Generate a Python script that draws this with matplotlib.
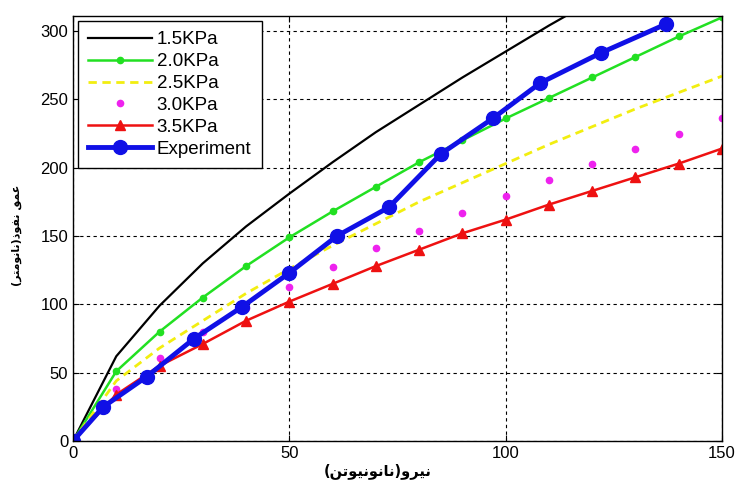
import matplotlib
matplotlib.use('Agg')
import matplotlib.pyplot as plt

# ---- data ----
x_model = [0, 10, 20, 30, 40, 50, 60, 70, 80, 90, 100, 110, 120, 130, 140, 150]
y_15 = [0, 62, 99, 130, 157, 181, 204, 226, 246, 266, 285, 304, 322]
y_20 = [0, 51, 80, 105, 128, 149, 168, 186, 204, 220, 236, 251, 266, 281, 296, 310]
y_25 = [0, 44, 68, 88, 108, 126, 143, 159, 175, 189, 203, 217, 230, 243, 255, 267]
y_30 = [0, 38, 61, 80, 97, 113, 127, 141, 154, 167, 179, 191, 203, 214, 225, 236]
y_35 = [0, 34, 55, 71, 88, 102, 115, 128, 140, 152, 162, 173, 183, 193, 203, 214]

x_exp = [0, 7, 17, 28, 39, 50, 61, 73, 85, 97, 108, 122, 137]
y_exp = [0, 25, 47, 75, 98, 123, 150, 171, 210, 236, 262, 284, 305]

labels = ['1.5KPa', '2.0KPa', '2.5KPa', '3.0KPa', '3.5KPa', 'Experiment']
xlabel = 'نیرو(نانونیوتن)'
ylabel = 'عمق نفوذ(نانومتر)'

# simple arabic/persian shaping (matplotlib has no shaping / bidi)
FORMS = {
    'ع': '\ufec9\ufeca\ufecb\ufecc', 'م': '\ufee1\ufee2\ufee3\ufee4',
    'ق': '\ufed5\ufed6\ufed7\ufed8', 'ن': '\ufee5\ufee6\ufee7\ufee8',
    'ف': '\ufed1\ufed2\ufed3\ufed4', 'ت': '\ufe95\ufe96\ufe97\ufe98',
    'ی': '\ufbfc\ufbfd\ufbfe\ufbff',
    'و': '\ufeed\ufeee', 'ذ': '\ufeab\ufeac', 'ا': '\ufe8d\ufe8e', 'ر': '\ufead\ufeae',
}


def shape(text):
    out = []
    for i, ch in enumerate(text):
        if ch not in FORMS:
            out.append(ch)
            continue
        f = FORMS[ch]
        prev = text[i - 1] if i > 0 else ''
        nxt = text[i + 1] if i + 1 < len(text) else ''
        jp = prev in FORMS and len(FORMS[prev]) == 4
        jn = nxt in FORMS and len(f) == 4
        if jp and jn:
            out.append(f[3])
        elif jp:
            out.append(f[1])
        elif jn:
            out.append(f[2])
        else:
            out.append(f[0])
    vis = ''.join(reversed(out))
    return vis.translate(str.maketrans('()', ')('))


plt.rcParams['font.family'] = ['Liberation Sans', 'DejaVu Sans']

fig = plt.figure(figsize=(7.37, 4.82), dpi=100)
ax = fig.add_axes([73 / 737, 1 - 441 / 482, 649 / 737, 425 / 482])

ax.plot(x_model[:len(y_15)], y_15, color='black', lw=1.6, label=labels[0])
ax.plot(x_model, y_20, color='#22e022', lw=1.8, marker='o', ms=4.5, label=labels[1])
ax.plot(x_model, y_25, color='#f2ee10', lw=2, ls=(0, (3, 2)), label=labels[2])
ax.plot(x_model, y_30, color='#ee22ee', ls='none', marker='o', ms=4.5, label=labels[3])
ax.plot(x_model, y_35, color='#ee1111', lw=1.8, marker='^', ms=7.5, label=labels[4])
ax.plot(x_exp, y_exp, color='#1010e6', lw=3.5, marker='o', ms=10, label=labels[5])

ax.set_xlim(0, 150)
ax.set_ylim(0, 311)
ax.set_xticks([0, 50, 100, 150])
ax.set_yticks(range(0, 301, 50))
ax.tick_params(direction='in', top=True, right=True, labelsize=12, length=4)
ax.grid(True, color='black', ls=(0, (3, 3)), lw=0.8)
for s in ax.spines.values():
    s.set_linewidth(1)

ax.set_xlabel(shape(xlabel), family='DejaVu Sans', fontweight='bold', fontsize=10.5, va='center')
ax.xaxis.set_label_coords(0.47, -0.071)
ax.set_ylabel(shape(ylabel), family='DejaVu Sans', fontweight='bold', fontsize=8, va='center')
ax.yaxis.set_label_coords(-0.086, 0.485)

leg = ax.legend(loc='upper left', fontsize=13.5, handlelength=3.4, fancybox=False,
                framealpha=1, edgecolor='black', borderaxespad=0.27,
                labelspacing=0.25, handletextpad=0.25, borderpad=0.55)
leg.get_frame().set_linewidth(1)

fig.savefig('out.png', dpi=100)
